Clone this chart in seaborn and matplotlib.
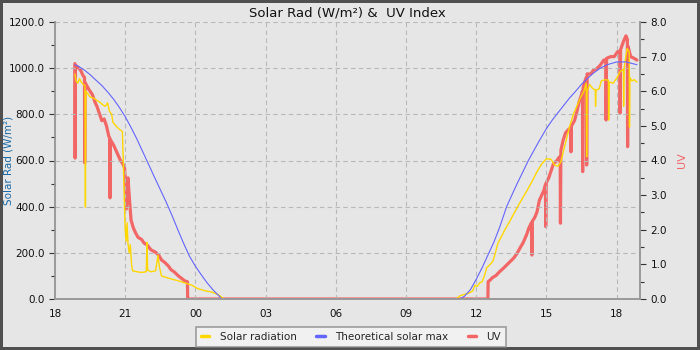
import numpy as np
import pandas as pd
import seaborn as sns
import matplotlib.pyplot as plt
from matplotlib.lines import Line2D
from matplotlib.ticker import MultipleLocator, FormatStrFormatter

# hours since 18:00 on day 1
solar_t = [0.85, 0.9, 0.97, 1.05, 1.12, 1.2, 1.28, 1.3, 1.32, 1.4, 1.5, 1.65, 1.8, 1.95, 2.05,
           2.15, 2.25, 2.32, 2.42, 2.48, 2.6, 2.72, 2.88, 2.92, 2.96, 3.0, 3.04, 3.08, 3.12,
           3.17, 3.22, 3.27, 3.32, 3.5, 3.7, 3.9, 3.93, 3.96, 4.1, 4.3, 4.4, 4.46, 4.55, 4.8,
           5.0, 5.3, 5.6, 5.85, 6.1, 6.4, 6.7, 6.95, 7.1, 7.22,
           17.15, 17.3, 17.5, 17.7, 17.85, 17.95, 18.05, 18.15, 18.25, 18.35, 18.45, 18.6,
           18.72, 18.82, 18.92, 19.05, 19.2, 19.4, 19.6, 19.8, 20.0, 20.2, 20.4, 20.6, 20.8,
           21.0, 21.2, 21.35, 21.5, 21.62, 21.75, 21.85, 22.0, 22.15, 22.3, 22.45, 22.6, 22.7,
           22.72, 22.74, 22.85, 22.95, 23.09, 23.1, 23.12, 23.25, 23.35, 23.5, 23.65, 23.66,
           23.68, 23.85, 24.0, 24.15, 24.29, 24.3, 24.32, 24.45, 24.54, 24.55, 24.57, 24.65,
           24.75, 24.87]
solar_w = [975, 945, 935, 955, 940, 930, 925, 398, 900, 890, 875, 870, 860, 850, 840,
           835, 850, 815, 800, 765, 750, 738, 725, 590, 430, 300, 250, 330, 240,
           200, 235, 150, 122, 118, 115, 118, 245, 125, 118, 122, 190, 140, 100, 92,
           86, 78, 68, 60, 45, 36, 30, 20, 10, 0,
           0, 14, 20, 26, 35, 60, 55, 70, 75, 100, 135, 150,
           165, 200, 240, 265, 295, 330, 368, 405, 440, 475, 512, 552, 585,
           608, 605, 580, 575, 595, 650, 690, 750, 800, 835, 870, 900, 935,
           616, 900, 930, 915, 905, 835, 905, 910, 945, 950, 948, 775,
           940, 935, 955, 985, 995, 835, 1000, 1085, 1070, 745, 960, 945,
           950, 940]

theo_t = [0.85, 1.0, 1.25, 1.5, 1.75, 2.0, 2.25, 2.5, 2.75, 3.0, 3.25, 3.5, 3.75, 4.0, 4.25,
          4.5, 4.75, 5.0, 5.25, 5.5, 5.75, 6.0, 6.25, 6.5, 6.75, 7.0, 7.12,
          17.3, 17.5, 17.75, 18.0, 18.25, 18.5, 18.75, 19.0, 19.3, 19.5, 19.75, 20.0, 20.23,
          20.5, 20.75, 21.0, 21.25, 21.44, 21.75, 22.0, 22.25, 22.5, 22.75, 23.0, 23.3, 23.6,
          24.0, 24.4, 24.87]
theo_w = [1015, 1008, 992, 972, 948, 925, 897, 866, 830, 790, 743, 693, 638, 583, 528,
          474, 420, 362, 300, 240, 185, 142, 105, 70, 40, 14, 0,
          0, 12, 40, 85, 135, 190, 245, 310, 400, 445, 500, 552, 600,
          650, 695, 738, 775, 800, 840, 872, 900, 930, 955, 978, 1000, 1015,
          1027, 1027, 1015]

uv_t = [0.85, 0.86, 0.875, 1.0, 1.1, 1.2, 1.26, 1.27, 1.285, 1.45, 1.6, 1.7, 1.8, 1.9, 2.0,
        2.1, 2.2, 2.3, 2.34, 2.35, 2.365, 2.5, 2.6, 2.7, 2.8, 2.9, 2.97, 3.0, 3.05, 3.08,
        3.12, 3.18, 3.25, 3.35, 3.45, 3.55, 3.7, 3.8, 3.95, 4.1, 4.3, 4.45, 4.55, 4.7, 4.85,
        4.95, 5.1, 5.25, 5.4, 5.55, 5.66, 5.67,
        18.5, 18.51, 18.6, 18.7, 18.85, 19.0, 19.15, 19.3, 19.45, 19.6, 19.75, 19.87, 20.0,
        20.15, 20.25, 20.36, 20.38, 20.4, 20.5, 20.6, 20.7, 20.8, 20.9, 20.96, 20.97, 20.99,
        21.1, 21.2, 21.3, 21.45, 21.55, 21.59, 21.6, 21.62, 21.72, 21.82, 21.95, 22.04,
        22.05, 22.07, 22.2, 22.3, 22.4, 22.5, 22.54, 22.55, 22.57, 22.65, 22.71, 22.72,
        22.74, 22.9, 23.0, 23.15, 23.3, 23.45, 23.54, 23.55, 23.57, 23.75, 23.9, 24.05,
        24.14, 24.15, 24.17, 24.3, 24.4, 24.46, 24.47, 24.49, 24.6, 24.75, 24.87]
uv_v = [6.8, 4.07, 6.75, 6.68, 6.6, 6.45, 6.4, 3.93, 6.25, 6.05, 5.9, 5.7, 5.55, 5.35, 5.15,
        5.2, 5.0, 4.7, 4.65, 2.92, 4.6, 4.45, 4.3, 4.15, 4.0, 3.9, 3.8, 3.5, 2.6, 3.1,
        3.5, 2.9, 2.28, 2.05, 1.9, 1.78, 1.72, 1.62, 1.55, 1.42, 1.35, 1.25, 1.13, 1.05, 0.95,
        0.85, 0.78, 0.68, 0.6, 0.52, 0.5, 0.0,
        0.0, 0.5, 0.55, 0.62, 0.68, 0.79, 0.88, 0.98, 1.08, 1.18, 1.32, 1.47, 1.62,
        1.85, 2.05, 2.2, 1.27, 2.25, 2.35, 2.52, 2.85, 3.0, 3.15, 3.3, 2.09, 3.35,
        3.5, 3.7, 3.9, 4.0, 4.1, 4.05, 2.19, 4.3, 4.6, 4.8, 4.9, 4.95,
        4.25, 5.0, 5.15, 5.4, 5.7, 5.9, 6.0, 3.68, 6.1, 6.3, 6.4, 3.87,
        6.5, 6.5, 6.6, 6.65, 6.75, 6.9, 6.9, 5.17, 6.95, 7.0, 7.0, 7.15,
        7.15, 5.37, 7.2, 7.45, 7.6, 7.5, 4.4, 7.3, 7.0, 6.95, 6.9]

hour_ticks = [0, 3, 6, 9, 12, 15, 18, 21, 24]
hour_labels = ['18', '21', '00', '03', '06', '09', '12', '15', '18']

solar_df = pd.DataFrame({'t': solar_t, 'w': solar_w})
theo_df = pd.DataFrame({'t': theo_t, 'w': theo_w})
uv_df = pd.DataFrame({'t': uv_t, 'uv': uv_v})

c_solar = '#ffd700'
c_theo = '#6464ff'
c_uv = '#f26666'
bg = '#e6e6e6'

sns.set_style('white')
plt.rcParams['font.family'] = ['DejaVu Sans']

fig = plt.figure(figsize=(7, 3.5), dpi=100)
fig.patch.set_facecolor(bg)
fig.patch.set_edgecolor('#505050')
fig.patch.set_linewidth(4)
ax = fig.add_axes([55 / 700, 51 / 350, 585 / 700, 277 / 350])
ax2 = ax.twinx()

ax2.set_facecolor(bg)
ax.set_zorder(ax2.get_zorder() + 1)
ax.patch.set_visible(False)

sns.lineplot(data=uv_df, x='t', y='uv', ax=ax2, color=c_uv, lw=2.3, sort=False)
sns.lineplot(data=solar_df, x='t', y='w', ax=ax, color=c_solar, lw=1.0, sort=False)
sns.lineplot(data=theo_df, x='t', y='w', ax=ax, color=c_theo, lw=0.8, sort=False)

ax.set_xlim(0, 25)
ax.set_ylim(0, 1200)
ax2.set_ylim(0, 8)
ax.set_xticks(hour_ticks)
ax.set_xticklabels(hour_labels)
ax.xaxis.set_minor_locator(MultipleLocator(1))
ax.yaxis.set_major_locator(MultipleLocator(200))
ax.yaxis.set_minor_locator(MultipleLocator(100))
ax.yaxis.set_major_formatter(FormatStrFormatter('%.1f'))
ax2.yaxis.set_major_locator(MultipleLocator(1))
ax2.yaxis.set_minor_locator(MultipleLocator(0.5))
ax2.yaxis.set_major_formatter(FormatStrFormatter('%.1f'))

ax.grid(True, which='major', color='#b8b8b8', ls=(0, (4, 3)), lw=0.8)
for a in (ax, ax2):
    a.tick_params(which='both', direction='out', color='#333333', labelsize=7.5,
                  labelcolor='#111111', length=4, width=0.8)
    a.tick_params(which='minor', length=3)
    for s in a.spines.values():
        s.set_color('#999999')
        s.set_linewidth(1.2)
    a.spines['top'].set_visible(False)
ax.set_xlabel('')
ax.set_ylabel('Solar Rad (W/m²)', color='#1a6aa6', fontsize=7.5)
ax.yaxis.set_label_coords(-0.071, 0.5)
ax2.set_ylabel('UV', color=c_uv, fontsize=8)
ax2.yaxis.set_label_coords(1.064, 0.5)
ax.set_title('Solar Rad (W/m²) &  UV Index', fontsize=9.5, color='#111111', pad=4)

handles = [Line2D([], [], color=c_solar, lw=2.5),
           Line2D([], [], color=c_theo, lw=2.5),
           Line2D([], [], color=c_uv, lw=2.5)]
leg = fig.legend(handles, ['Solar radiation', 'Theoretical solar max', 'UV'],
                 loc='center', bbox_to_anchor=(351 / 700, 13 / 350), ncol=3,
                 fontsize=7.5, frameon=True, fancybox=False, handlelength=0.8,
                 handletextpad=1.0, columnspacing=1.9, borderpad=0.45)
leg.get_frame().set_facecolor('#f4f4f4')
leg.get_frame().set_edgecolor('#888888')
leg.get_frame().set_linewidth(1.2)

fig.savefig('out.png', dpi=100, facecolor=fig.get_facecolor(), edgecolor=fig.get_edgecolor())
